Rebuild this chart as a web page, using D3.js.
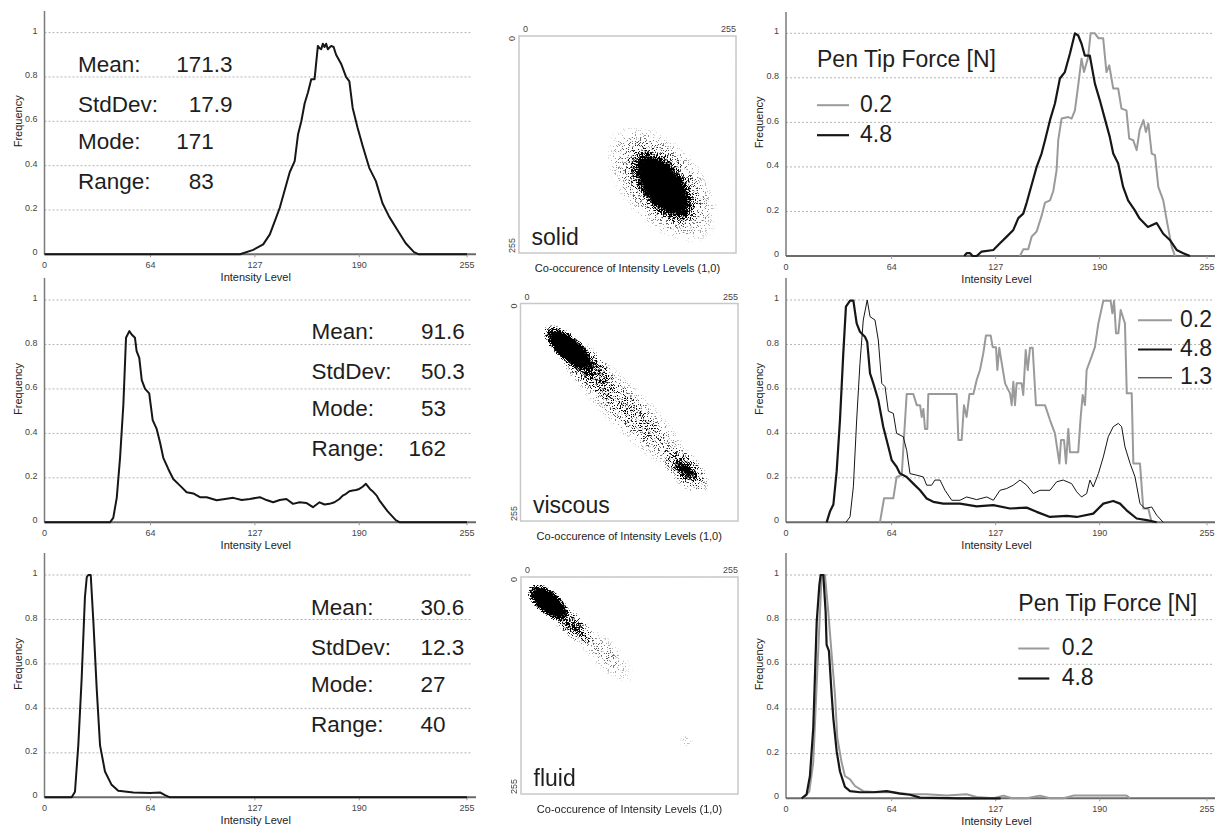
<!DOCTYPE html>
<html><head><meta charset="utf-8">
<script src="https://cdn.jsdelivr.net/npm/d3@7"></script>
<style>
body{margin:0;background:#fff;}
svg{display:block;font-family:"Liberation Sans",Arial,sans-serif;}
</style></head><body>
<svg id="c" width="1224" height="827"></svg>
<script>
// ---------------- DATA ----------------
const xTicks = [0, 64, 127, 190, 255];
const yTicks = [0, 0.2, 0.4, 0.6, 0.8, 1];
const yTickLabels = ["0", "0.2", "0.4", "0.6", "0.8", "1"];
const xAxisTitle = "Intensity Level";
const yAxisTitle = "Frequency";
const coTitle = "Co-occurence of Intensity Levels (1,0)";
const coTickLabels = ["0", "255"];
const materials = ["solid", "viscous", "fluid"];
const statNames = ["Mean:", "StdDev:", "Mode:", "Range:"];
const statsSolid = ["171.3", "17.9", "171", "83"];
const statsViscous = ["91.6", "50.3", "53", "162"];
const statsFluid = ["30.6", "12.3", "27", "40"];
const legendTitle = "Pen Tip Force [N]";
const forceLevels = ["0.2", "4.8", "1.3"];

const histSolid = [[0,0],[118,0],[126,0.02],[132,0.045],[136,0.09],[139,0.15],[142,0.21],[145,0.29],[148,0.37],[151,0.42],[153,0.54],[155,0.6],[157,0.68],[159,0.73],[161,0.79],[163,0.79],[165,0.94],[166,0.93],[167,0.925],[168,0.95],[169,0.935],[170,0.95],[171,0.925],[173,0.94],[174.5,0.935],[176,0.9],[179,0.86],[182,0.8],[184,0.78],[186,0.66],[189,0.57],[192,0.49],[196,0.39],[200,0.33],[204,0.23],[208,0.17],[213,0.11],[218,0.05],[223,0.01],[226,0],[255,0]];
const histViscous = [[0,0],[39.5,0],[41.5,0.02],[43.6,0.11],[45.6,0.29],[47.6,0.53],[49.2,0.83],[51.2,0.86],[52.6,0.845],[54.6,0.83],[55.6,0.77],[57.2,0.74],[58.7,0.64],[60.7,0.6],[63.2,0.58],[65.3,0.46],[67.7,0.42],[69.7,0.36],[71.7,0.29],[74.7,0.24],[77.7,0.195],[81.8,0.165],[85.8,0.135],[89.8,0.13],[93.8,0.113],[97.9,0.113],[103.9,0.099],[109,0.105],[113.9,0.11],[119,0.1],[124,0.105],[130,0.113],[134,0.1],[138,0.09],[142,0.1],[146,0.105],[150,0.083],[154,0.09],[158,0.087],[162,0.068],[166,0.09],[169,0.08],[172,0.083],[175,0.09],[178,0.105],[180,0.12],[182,0.128],[184,0.14],[186,0.143],[188,0.145],[190,0.15],[192,0.16],[194,0.173],[196.4,0.15],[198,0.14],[200.5,0.12],[202,0.1],[204.5,0.075],[207,0.05],[209.5,0.03],[212,0.01],[214.5,0],[255,0]];
const histFluid = [[0,0],[16.4,0],[18.4,0.025],[20.4,0.235],[22.4,0.53],[24.4,0.9],[25.5,0.99],[26.4,1],[27.9,1],[29.5,0.79],[31.5,0.49],[33.5,0.235],[36.5,0.116],[40.5,0.056],[44.5,0.029],[53.6,0.022],[63.7,0.019],[69.7,0.022],[72.7,0.01],[75.7,0],[255,0]];

const forceSolid02 = [[141.7,0],[143.7,0.03],[146.7,0.03],[148.8,0.087],[151.8,0.11],[154.8,0.18],[156.9,0.24],[159.9,0.25],[161.9,0.292],[163.9,0.386],[164.9,0.52],[166.9,0.617],[171,0.624],[173,0.617],[175,0.654],[177,0.767],[179,0.886],[180.5,0.826],[183,0.893],[184.5,1],[187.1,1],[189.2,0.978],[192.1,0.978],[194.1,0.826],[195.8,0.856],[198.2,0.752],[201.2,0.752],[203.2,0.662],[206.2,0.654],[207.9,0.527],[210.3,0.52],[212.4,0.475],[214.2,0.565],[216.5,0.61],[218,0.557],[219.5,0.595],[221.5,0.46],[223.5,0.453],[225.5,0.31],[228.5,0.25],[230.6,0.161],[233.6,0.042],[235.6,0]];
const forceSolid48 = [[108,0],[109.4,0.013],[111.5,0.013],[113,0],[115.5,0],[118.5,0.02],[125.6,0.027],[129.6,0.057],[133.7,0.087],[137.7,0.117],[140.7,0.17],[143.7,0.19],[145.8,0.24],[148.8,0.32],[151.8,0.4],[154.8,0.46],[156.9,0.52],[159.9,0.61],[162.9,0.685],[165.9,0.797],[168.9,0.826],[172,0.909],[175,1],[177,0.99],[179,0.953],[181,0.9],[184,0.9],[187.1,0.774],[190.1,0.699],[193.1,0.617],[196.1,0.535],[198.2,0.46],[201.2,0.415],[204.2,0.31],[207.2,0.25],[211.2,0.206],[214.2,0.168],[219.2,0.13],[224.5,0.148],[228.5,0.1],[232.5,0.072],[236.6,0.027],[240.6,0.012],[244.7,0]];

const forceViscous02 = [[56.9,0],[59.4,0.108],[65,0.108],[67,0.204],[70.1,0.212],[71.5,0.385],[73.1,0.577],[77.1,0.577],[79.2,0.527],[81.2,0.527],[82.2,0.474],[83.2,0.51],[84.2,0.42],[85.6,0.42],[86.2,0.577],[103.4,0.577],[104.4,0.37],[106.4,0.37],[107.8,0.527],[109.4,0.474],[111.1,0.577],[113.5,0.577],[115.5,0.64],[117.5,0.685],[119.5,0.76],[121.1,0.84],[124,0.84],[125.2,0.788],[127.2,0.788],[128,0.685],[129.2,0.785],[130.7,0.715],[132.7,0.625],[135.7,0.58],[136.7,0.527],[137.7,0.632],[138.7,0.527],[139.7,0.625],[142.7,0.625],[143.7,0.573],[145.2,0.775],[146.4,0.685],[147.8,0.785],[149.4,0.785],[151.4,0.527],[156.9,0.527],[159.9,0.46],[162.9,0.4],[165.6,0.265],[166.6,0.37],[168.4,0.37],[169.6,0.265],[171,0.42],[172,0.315],[177,0.315],[178.5,0.474],[179.7,0.573],[181.1,0.527],[182.1,0.685],[185.1,0.745],[187.1,0.788],[189.2,0.895],[192.2,0.997],[196.6,0.997],[197.7,0.94],[198.7,0.997],[199.9,0.85],[201.3,0.85],[202.7,0.955],[205.3,0.895],[206.4,0.58],[209.4,0.58],[210.4,0.265],[214.4,0.265],[216.4,0.062],[219.4,0.062],[221.5,0]];
const forceViscous48 = [[24.6,0],[26.7,0.05],[28.7,0.08],[30.7,0.23],[32.7,0.46],[34.7,0.76],[36.3,0.97],[38.8,0.997],[40.8,0.997],[42.8,0.895],[44.8,0.857],[47.8,0.835],[49.2,0.812],[50.9,0.67],[52.9,0.625],[55.9,0.55],[58.9,0.43],[62,0.34],[64,0.28],[67,0.25],[69,0.22],[73.1,0.204],[77.1,0.174],[81.2,0.144],[85.2,0.107],[89.2,0.092],[95.3,0.084],[105.4,0.084],[115.5,0.072],[125.6,0.077],[135.7,0.062],[145.8,0.066],[151.8,0.047],[159.9,0.024],[170,0.029],[176.1,0.024],[186.1,0.039],[192.2,0.084],[198.2,0.096],[202.3,0.084],[206.3,0.054],[212.4,0.017],[218.5,0.01],[224.5,0]];
const forceViscous13 = [[36.3,0],[38.8,0.025],[40.8,0.16],[42.8,0.46],[44.8,0.715],[46.8,0.91],[49.2,1],[50.9,0.925],[53.9,0.91],[55.9,0.82],[58,0.625],[60,0.61],[62,0.5],[65,0.49],[67,0.4],[71,0.385],[73.1,0.324],[75.1,0.219],[79.2,0.212],[83.2,0.204],[85.2,0.167],[88.2,0.167],[90.2,0.19],[93.3,0.19],[96.3,0.144],[100.4,0.099],[105.4,0.099],[109.4,0.114],[115.5,0.102],[121.6,0.114],[125.6,0.099],[129.6,0.144],[133.7,0.152],[137.7,0.167],[141.7,0.19],[145.8,0.167],[149.8,0.129],[153.8,0.144],[159.9,0.144],[163.9,0.182],[167.9,0.19],[173,0.174],[176.1,0.137],[179,0.114],[182.1,0.129],[184.1,0.19],[186.1,0.159],[189.2,0.219],[192.2,0.294],[195.2,0.385],[198.2,0.43],[201.3,0.445],[203.3,0.43],[205.3,0.34],[208.4,0.265],[211.4,0.204],[214.4,0.084],[217.4,0.062],[221.5,0.069],[224.5,0.032],[228.5,0]];

const forceFluid02 = [[10.5,0],[14.1,0.03],[16.5,0.16],[18.6,0.51],[20.6,0.836],[21.6,1],[23.6,1],[25.6,0.836],[27.7,0.64],[29.7,0.46],[31.1,0.27],[33.7,0.16],[35.7,0.1],[38.8,0.085],[41.8,0.055],[46.8,0.032],[54.9,0.027],[65,0.027],[75.1,0.018],[85.2,0.018],[97.3,0.012],[109.4,0.018],[115.5,0.006],[125.6,0],[131.7,0.012],[137,0],[145.8,0],[153.8,0.012],[159.9,0],[168,0],[174,0.012],[186,0.012],[206.3,0.012],[208.4,0]];
const forceFluid48 = [[9.5,0],[12.5,0.018],[14.5,0.1],[16.5,0.313],[18.6,0.79],[20.2,0.955],[21,1],[22.6,1],[24,0.836],[24.6,0.687],[26,0.66],[27.7,0.46],[28.7,0.356],[30.7,0.21],[32.7,0.12],[35.7,0.051],[38.8,0.032],[44.8,0.027],[52.9,0.027],[61,0.032],[69,0.021],[75.1,0.016],[81.2,0.003],[105.4,0],[130,0]];

// co-occurrence density blobs, in intensity units (i = level of pixel, j = level of neighbour)
const cooSolid = [
  {i:168, j:174, a:84, b:48, ang:48, w:0.45, k:"soft"},
  {i:169, j:176, a:52, b:27, ang:52, w:1, k:"core"}
];
const cooViscous = [
  {i:126, j:125, a:115, b:27, ang:45, w:0.3, k:"soft"},
  {i:76, j:72, a:44, b:22, ang:44, w:0.5, k:"soft"},
  {i:57, j:53, a:39, b:16, ang:41, w:1, k:"core"},
  {i:194, j:195, a:36, b:19, ang:45, w:0.5, k:"soft"},
  {i:195, j:196, a:17, b:9, ang:45, w:0.8, k:"soft"}
];
const cooFluid = [
  {i:98, j:90, a:48, b:18, ang:45, w:0.16, k:"soft"},
  {i:60, j:56, a:34, b:15, ang:43, w:0.6, k:"soft"},
  {i:32, j:30, a:31, b:15, ang:40, w:1, k:"core"},
  {i:194, j:193, a:9, b:8, ang:0, w:0.08, k:"soft"}
];

// ---------------- LAYOUT ----------------
const W = 1224, H = 827;
const svg = d3.select("#c");
const leftX = {x0:44.5, x1:467, xEnd:476, gridEnd:472};
const rightX = {x0:786, x1:1207, xEnd:1215, gridEnd:1213};
const rowsL = [{y0:254.3, y1:32.6, top:11}, {y0:522.3, y1:300, top:278}, {y0:797.3, y1:575, top:553}];
const rowsR = [{y0:256, y1:33.3, top:12}, {y0:522.3, y1:300, top:278}, {y0:798.3, y1:575, top:553}];
const coBoxes = [{x:519, y:36, s:217}, {x:520.5, y:303.5, s:217.5}, {x:521, y:577, s:217}];
const statLayout = [{lx:78, tab:213.8, by:72}, {lx:311.5, tab:446, by:339}, {lx:311, tab:445.5, by:615}];
const statRowOffsets = [0, 40, 77, 117];

const GRAY = "#9a9a9a", BLACK = "#161616";

// defs: stipple filter + gradients
const defs = svg.append("defs");
const flt = defs.append("filter").attr("id", "stipple")
  .attr("filterUnits", "userSpaceOnUse").attr("x", 0).attr("y", 0).attr("width", W).attr("height", H)
  .attr("color-interpolation-filters", "sRGB");
flt.append("feTurbulence").attr("type", "fractalNoise").attr("baseFrequency", 1.4)
  .attr("numOctaves", 1).attr("seed", 11).attr("result", "noise");
flt.append("feColorMatrix").attr("in", "noise").attr("type", "matrix")
  .attr("values", "0 0 0 0 0  0 0 0 0 0  0 0 0 0 0  3.4 0 0 0 -1.2").attr("result", "nA");
flt.append("feComposite").attr("in", "SourceGraphic").attr("in2", "nA").attr("operator", "arithmetic")
  .attr("k1", 0).attr("k2", 1.5).attr("k3", 1).attr("k4", -0.5).attr("result", "sum");
flt.append("feComponentTransfer").attr("in", "sum")
  .append("feFuncA").attr("type", "linear").attr("slope", 3).attr("intercept", -1.5);

const gCore = defs.append("radialGradient").attr("id", "g-core");
[[0,1],[0.6,1],[0.82,0.5],[1,0]].forEach(([o,a]) => gCore.append("stop").attr("offset", o).attr("stop-color", "#111").attr("stop-opacity", a));
const gSoft = defs.append("radialGradient").attr("id", "g-soft");
[[0,1],[0.3,0.85],[0.7,0.35],[1,0]].forEach(([o,a]) => gSoft.append("stop").attr("offset", o).attr("stop-color", "#111").attr("stop-opacity", a));

// ---------------- HISTOGRAM PANELS ----------------
function histPanel(cols, row, seriesList) {
  const x = d3.scaleLinear().domain([0, 255]).range([cols.x0, cols.x1]);
  const y = d3.scaleLinear().domain([0, 1]).range([row.y0, row.y1]);
  const g = svg.append("g");
  g.selectAll("line.grid").data(yTicks.filter(t => t > 0)).join("line")
    .attr("x1", cols.x0).attr("x2", cols.gridEnd).attr("y1", d => y(d)).attr("y2", d => y(d))
    .attr("stroke", "#b4b4b4").attr("stroke-width", 1).attr("stroke-dasharray", "2,2");
  g.append("line").attr("x1", cols.x0).attr("x2", cols.x0).attr("y1", row.top).attr("y2", row.y0)
    .attr("stroke", "#7a7a7a").attr("stroke-width", 1.5);
  g.append("line").attr("x1", cols.x0).attr("x2", cols.xEnd).attr("y1", row.y0).attr("y2", row.y0)
    .attr("stroke", "#6a6a6a").attr("stroke-width", 2);
  g.selectAll("line.xt").data(xTicks.slice(1)).join("line")
    .attr("x1", d => x(d)).attr("x2", d => x(d)).attr("y1", row.y0).attr("y2", row.y0 + 3)
    .attr("stroke", "#999").attr("stroke-width", 1);
  g.selectAll("text.yt").data(yTicks).join("text")
    .attr("x", cols.x0 - 7).attr("y", d => y(d) - 2).attr("dy", "0.35em")
    .attr("text-anchor", "end").attr("font-size", 9).attr("fill", "#444")
    .text((d, i) => yTickLabels[i]);
  g.selectAll("text.xt").data(xTicks).join("text")
    .attr("x", d => x(d)).attr("y", row.y0 + 14)
    .attr("text-anchor", "middle").attr("font-size", 9).attr("fill", "#444")
    .text(d => d);
  g.append("text").attr("x", (cols.x0 + cols.x1) / 2).attr("y", row.y0 + 27)
    .attr("text-anchor", "middle").attr("font-size", 11).attr("fill", "#222").text(xAxisTitle);
  g.append("text").attr("transform", `translate(${cols.x0 - 23},${y(0.6)}) rotate(-90)`)
    .attr("text-anchor", "middle").attr("font-size", 11).attr("fill", "#222").text(yAxisTitle);
  const line = d3.line().x(d => x(d[0])).y(d => y(d[1]));
  seriesList.forEach(s => {
    g.append("path").attr("d", line(s.data)).attr("fill", "none")
      .attr("stroke", s.color).attr("stroke-width", s.width).attr("stroke-linejoin", "round");
  });
  return {x, y, g};
}

// left column
const histData = [histSolid, histViscous, histFluid];
const statsData = [statsSolid, statsViscous, statsFluid];
histData.forEach((h, r) => {
  const p = histPanel(leftX, rowsL[r], [{data: h, color: BLACK, width: 2}]);
  const L = statLayout[r];
  statNames.forEach((nm, k) => {
    const yy = L.by + statRowOffsets[k];
    p.g.append("text").attr("x", L.lx).attr("y", yy).attr("font-size", 22.5).attr("fill", "#1e1e1e").text(nm);
    const val = statsData[r][k];
    const t = p.g.append("text").attr("y", yy).attr("font-size", 22.5).attr("fill", "#1e1e1e")
      .attr("text-anchor", "end").text(val);
    let extra = 0;
    if (val.includes(".")) {
      const tmp = p.g.append("text").attr("font-size", 22.5).text(val.slice(val.indexOf(".")));
      extra = tmp.node().getComputedTextLength();
      tmp.remove();
    }
    t.attr("x", L.tab + extra);
  });
});

// right column
const rightSeries = [
  [{data: forceSolid02, color: GRAY, width: 2}, {data: forceSolid48, color: BLACK, width: 2.2}],
  [{data: forceViscous02, color: GRAY, width: 2}, {data: forceViscous13, color: BLACK, width: 1}, {data: forceViscous48, color: BLACK, width: 2.2}],
  [{data: forceFluid02, color: GRAY, width: 2}, {data: forceFluid48, color: BLACK, width: 2.2}]
];
const legendSpecs = [
  {title: [817, 66.7], lx0: 817, lx1: 849, tx: 860, base: [111.7, 141.7]},
  {title: null, lx0: 1138, lx1: 1172, tx: 1180, base: [326.7, 356, 384.3]},
  {title: [1018.3, 610.7], lx0: 1018.3, lx1: 1049.3, tx: 1061.7, base: [655, 685]}
];
const legendStyle = [{color: GRAY, width: 2}, {color: BLACK, width: 2.2}, {color: BLACK, width: 1}];
rightSeries.forEach((ss, r) => {
  const p = histPanel(rightX, rowsR[r], ss);
  const L = legendSpecs[r];
  if (L.title) p.g.append("text").attr("x", L.title[0]).attr("y", L.title[1])
    .attr("font-size", 23).attr("fill", "#1e1e1e").text(legendTitle);
  L.base.forEach((b, k) => {
    p.g.append("line").attr("x1", L.lx0).attr("x2", L.lx1).attr("y1", b - 6.5).attr("y2", b - 6.5)
      .attr("stroke", legendStyle[k].color).attr("stroke-width", legendStyle[k].width);
    p.g.append("text").attr("x", L.tx).attr("y", b).attr("font-size", 23).attr("fill", "#1e1e1e").text(forceLevels[k]);
  });
});

// ---------------- CO-OCCURRENCE PANELS ----------------
const cooData = [cooSolid, cooViscous, cooFluid];
cooData.forEach((blobs, r) => {
  const B = coBoxes[r];
  const sx = d3.scaleLinear().domain([0, 255]).range([B.x, B.x + B.s]);
  const sy = d3.scaleLinear().domain([0, 255]).range([B.y, B.y + B.s]);
  const k = B.s / 255;
  const g = svg.append("g");
  const cid = "clip" + r;
  defs.append("clipPath").attr("id", cid).append("rect")
    .attr("x", B.x).attr("y", B.y).attr("width", B.s).attr("height", B.s);
  const cloud = g.append("g").attr("clip-path", `url(#${cid})`).append("g").attr("filter", "url(#stipple)");
  cloud.selectAll("ellipse").data(blobs).join("ellipse")
    .attr("cx", d => sx(d.i)).attr("cy", d => sy(d.j))
    .attr("rx", d => d.a * k).attr("ry", d => d.b * k)
    .attr("transform", d => `rotate(${d.ang},${sx(d.i)},${sy(d.j)})`)
    .attr("fill", d => d.k === "core" ? "url(#g-core)" : "url(#g-soft)")
    .attr("fill-opacity", d => d.w);
  g.append("rect").attr("x", B.x).attr("y", B.y).attr("width", B.s).attr("height", B.s)
    .attr("fill", "none").attr("stroke", "#c8c8c8").attr("stroke-width", 1.5);
  g.append("text").attr("x", sx(0) + 4).attr("y", B.y - 4).attr("font-size", 9).attr("fill", "#444").text(coTickLabels[0]);
  g.append("text").attr("x", sx(255)).attr("y", B.y - 4).attr("text-anchor", "end").attr("font-size", 9).attr("fill", "#444").text(coTickLabels[1]);
  g.append("text").attr("transform", `translate(${B.x - 4},${sy(0)}) rotate(-90)`)
    .attr("text-anchor", "end").attr("font-size", 9).attr("fill", "#444").text(coTickLabels[0]);
  g.append("text").attr("transform", `translate(${B.x - 4},${sy(255)}) rotate(-90)`)
    .attr("text-anchor", "start").attr("font-size", 9).attr("fill", "#444").text(coTickLabels[1]);
  g.append("text").attr("x", B.x + 12.5).attr("y", B.y + B.s - 8.5).attr("font-size", 23).attr("fill", "#1e1e1e").text(materials[r]);
  g.append("text").attr("x", B.x + B.s / 2).attr("y", B.y + B.s + 19).attr("text-anchor", "middle")
    .attr("font-size", 11).attr("fill", "#222").text(coTitle);
});
</script>
</body></html>
